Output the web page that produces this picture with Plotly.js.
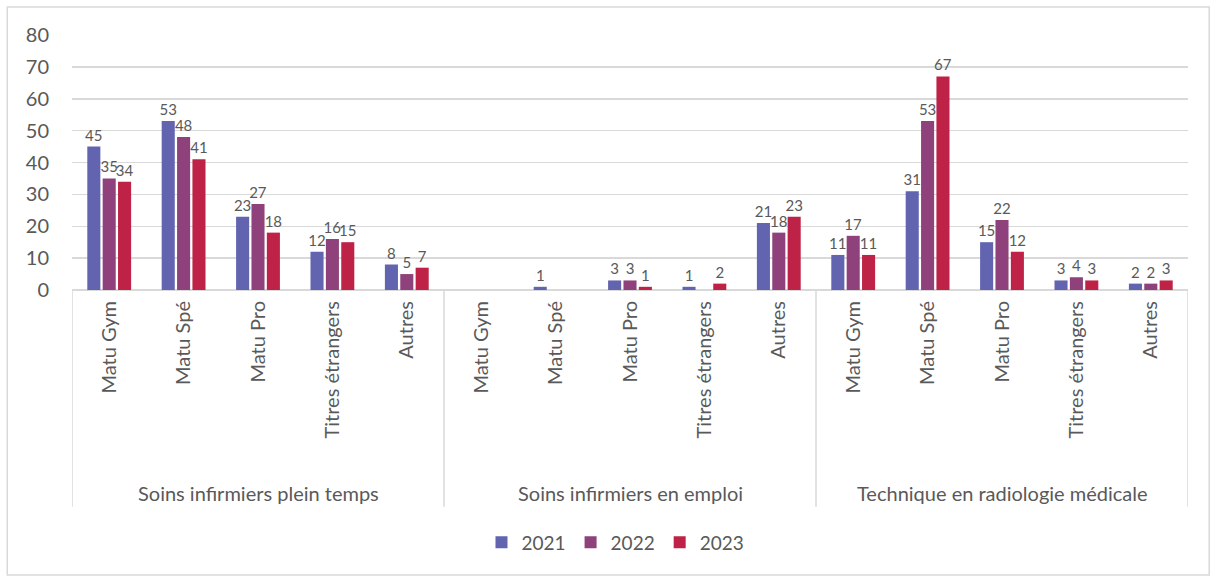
<!DOCTYPE html>
<html>
<head>
<meta charset="utf-8">
<script src="https://cdn.plot.ly/plotly-3.0.1.min.js"></script>
<style>
  html, body { margin: 0; padding: 0; background: #fff; }
  #chart { width: 1213px; height: 577px; }
</style>
</head>
<body>
<div id="chart"></div>
<script>
// categories
const groups = ['Soins infirmiers plein temps', 'Soins infirmiers en emploi', 'Technique en radiologie médicale'];
const subCategories = ['Matu Gym', 'Matu Spé', 'Matu Pro', 'Titres étrangers', 'Autres'];
const years = ['2021', '2022', '2023'];

// values per year, 5 entries per group (null = no bar)
const values2021 = [45, 53, 23, 12, 8, null, 1, 3, 1, 21, 11, 31, 15, 3, 2];
const values2022 = [35, 48, 27, 16, 5, null, null, 3, null, 18, 17, 53, 22, 4, 2];
const values2023 = [34, 41, 18, 15, 7, null, null, 1, 2, 23, 11, 67, 12, 3, 3];

const colors = ['#6264B0', '#8E417A', '#BE2347'];
const textGrey = '#595959';
const gridGrey = '#D9D9D9';
const fontFamily = 'Lato, "Open Sans", sans-serif';

// one x slot per (group, sub-category)
const xIdx = [];
const tickText = [];
groups.forEach((g, gi) => {
  subCategories.forEach((s, si) => {
    xIdx.push(gi * subCategories.length + si);
    tickText.push(s);
  });
});

const traces = [values2021, values2022, values2023].map((vals, i) => ({
  type: 'bar',
  name: years[i],
  x: xIdx,
  y: vals,
  marker: { color: colors[i] },
  text: vals.map(v => (v == null ? '' : String(v))),
  textposition: 'outside',
  constraintext: 'none',
  cliponaxis: false,
  textfont: { family: fontFamily, size: 15, color: textGrey },
  hoverinfo: 'skip'
}));

// group dividers and labels below the axis
const n = subCategories.length;
const shapes = [];
for (let gi = 0; gi <= groups.length; gi++) {
  shapes.push({
    type: 'line', xref: 'x', yref: 'paper',
    x0: gi * n - 0.5, x1: gi * n - 0.5, y0: 0, y1: -0.85,
    line: { color: gridGrey, width: 1.5 }
  });
}
// outer chart frame
shapes.push({
  type: 'rect', xref: 'paper', yref: 'paper',
  x0: -0.058, x1: 1.019, y0: -1.118, y1: 1.11,
  line: { color: gridGrey, width: 1.5 }
});

const annotations = groups.map((g, gi) => ({
  text: g, xref: 'x', yref: 'paper',
  x: gi * n + (n - 1) / 2, y: -0.795,
  showarrow: false, yanchor: 'middle',
  font: { family: fontFamily, size: 20, color: textGrey }
}));

const layout = {
  width: 1213,
  height: 577,
  margin: { l: 72, r: 25, t: 35, b: 287 },
  paper_bgcolor: '#fff',
  plot_bgcolor: '#fff',
  barmode: 'group',
  bargap: 0.38,
  bargroupgap: 0.15,
  font: { family: fontFamily, color: textGrey },
  showlegend: true,
  legend: {
    orientation: 'h', x: 0.487, xanchor: 'center', y: -0.99, yanchor: 'middle',
    font: { family: fontFamily, size: 19, color: textGrey },
    traceorder: 'normal'
  },
  xaxis: {
    range: [-0.5, xIdx.length - 0.5],
    tickmode: 'array',
    tickvals: xIdx,
    ticktext: tickText,
    tickangle: -90,
    ticks: '',
    ticklabelstandoff: 6,
    showgrid: false,
    zeroline: false,
    showline: false,
    tickfont: { family: fontFamily, size: 20, color: textGrey }
  },
  yaxis: {
    range: [0, 80],
    dtick: 10,
    showgrid: true,
    gridcolor: gridGrey,
    gridwidth: 1.5,
    zeroline: true,
    zerolinecolor: gridGrey,
    zerolinewidth: 1.5,
    ticks: '',
    ticklabelstandoff: 22,
    tickfont: { family: fontFamily, size: 20, color: textGrey }
  },
  shapes: shapes,
  annotations: annotations
};

Plotly.newPlot('chart', traces, layout, { staticPlot: true });
</script>
</body>
</html>
